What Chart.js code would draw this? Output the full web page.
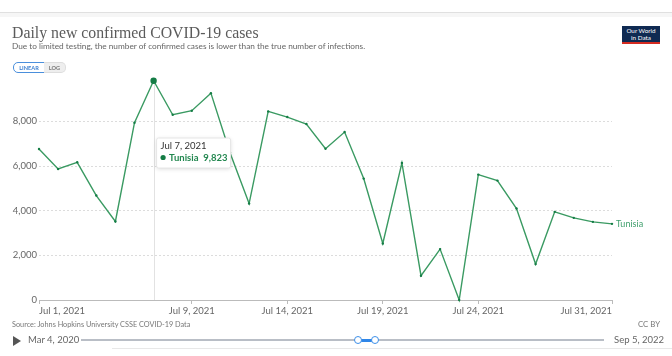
<!DOCTYPE html>
<html><head><meta charset="utf-8">
<script src="https://cdn.jsdelivr.net/npm/chart.js@4/dist/chart.umd.min.js"></script>
<style>
html,body{margin:0;padding:0;background:#fff;width:672px;height:356px;overflow:hidden;font-family:Lato,sans-serif;}
.abs{position:absolute;white-space:nowrap;line-height:1;}
#topline{position:absolute;left:0;top:12px;width:672px;height:1px;background:#e0e0e0;}
#topband{position:absolute;left:0;top:13px;width:672px;height:4px;background:#f6f6f6;}
#title{left:12px;top:24.5px;font-family:"Liberation Serif",serif;font-size:15.8px;color:#5b5b5b;}
#subtitle{left:12px;top:41.5px;font-size:8.27px;color:#666;}
#btnLin{left:13px;top:62px;width:30px;height:9px;border:1px solid #4a8fdc;border-radius:5px 0 0 5px;font-size:5.6px;font-weight:bold;color:#3b7fd0;text-align:center;line-height:9px;background:#fff;}
#btnLog{left:44px;top:62px;width:21px;height:9px;border:1px solid #ddd;border-left:none;border-radius:0 5px 5px 0;font-size:5.6px;font-weight:bold;color:#777;text-align:center;line-height:9px;background:#eee;}
#logo{left:622px;top:26px;width:38px;height:16px;background:#0f2a52;color:#fff;font-size:6.3px;text-align:center;line-height:7px;padding-top:1px;box-sizing:border-box;}
#logobar{left:622px;top:42px;width:38px;height:2px;background:#d42b21;}
#source{left:12px;top:321px;font-size:7.3px;color:#777;}
#ccby{left:638px;top:321px;font-size:7.8px;color:#777;}
#play{left:13px;top:336px;width:0;height:0;border-left:8px solid #555;border-top:5px solid transparent;border-bottom:5px solid transparent;}
#startDate{left:28px;top:335px;font-size:9.5px;color:#666;}
#endDate{left:614px;top:335px;font-size:9.5px;color:#666;}
#track{left:81px;top:339px;width:523px;height:2px;background:#b9bec6;}
#range{left:358px;top:338.5px;width:17px;height:3px;background:#2f86e8;}
.handle{top:335.5px;width:6px;height:6px;border:1.3px solid #3d8fe8;border-radius:50%;background:#fff;}
#bottomline{left:112px;top:348px;width:560px;height:1px;background:#e8e8e8;}
#chart{position:absolute;left:0;top:0;}
</style></head>
<body>
<div id="topline"></div><div id="topband"></div>
<canvas id="chart" width="672" height="356"></canvas>
<div class="abs" id="title">Daily new confirmed COVID-19 cases</div>
<div class="abs" id="subtitle">Due to limited testing, the number of confirmed cases is lower than the true number of infections.</div>
<div class="abs" id="btnLin">LINEAR</div><div class="abs" id="btnLog">LOG</div>
<div class="abs" id="logo">Our World<br>in Data</div><div class="abs" id="logobar"></div>
<div class="abs" id="source">Source: Johns Hopkins University CSSE COVID-19 Data</div>
<div class="abs" id="ccby">CC BY</div>
<div class="abs" id="play"></div>
<div class="abs" id="startDate">Mar 4, 2020</div>
<div class="abs" id="track"></div><div class="abs" id="range"></div>
<div class="abs handle" style="left:354px"></div><div class="abs handle" style="left:371px"></div>
<div class="abs" id="endDate">Sep 5, 2022</div>
<div class="abs" id="bottomline"></div>
<script>
const dates = ["Jul 1, 2021","Jul 2, 2021","Jul 3, 2021","Jul 4, 2021","Jul 5, 2021","Jul 6, 2021","Jul 7, 2021","Jul 8, 2021","Jul 9, 2021","Jul 10, 2021","Jul 11, 2021","Jul 12, 2021","Jul 13, 2021","Jul 14, 2021","Jul 15, 2021","Jul 16, 2021","Jul 17, 2021","Jul 18, 2021","Jul 19, 2021","Jul 20, 2021","Jul 21, 2021","Jul 22, 2021","Jul 23, 2021","Jul 24, 2021","Jul 25, 2021","Jul 26, 2021","Jul 27, 2021","Jul 28, 2021","Jul 29, 2021","Jul 30, 2021","Jul 31, 2021"];
const cases = [6762,5868,6168,4679,3517,7942,9823,8299,8478,9265,6592,4321,8447,8194,7881,6778,7523,5438,2533,6138,1088,2279,0,5617,5348,4097,1609,3948,3680,3501,3411];
const xTickLabels = ["Jul 1, 2021","Jul 9, 2021","Jul 14, 2021","Jul 19, 2021","Jul 24, 2021","Jul 31, 2021"];
const yTickValues = [0,2000,4000,6000,8000];
const seriesName = "Tunisia";
const hoverIndex = 6;

const fmt = v => Number(v).toLocaleString('en-US');
const GREEN_LINE = '#3a9a62', GREEN_DOT = '#147c45', GREEN_TEXT = '#22874f';

const overlay = {
  id: 'overlay',
  beforeDatasetsDraw(chart) {
    const c = chart.ctx, a = chart.chartArea;
    const p = chart.getDatasetMeta(0).data[hoverIndex];
    c.save();
    c.strokeStyle = '#e2e2e2'; c.lineWidth = 1;
    c.beginPath(); c.moveTo(Math.round(p.x)+0.5, a.top); c.lineTo(Math.round(p.x)+0.5, a.bottom); c.stroke();
    c.restore();
  },
  afterDatasetsDraw(chart) {
    const c = chart.ctx;
    const meta = chart.getDatasetMeta(0);
    const p = meta.data[hoverIndex];
    const last = meta.data[meta.data.length - 1];
    c.save();
    c.font = '9px Lato'; c.fillStyle = '#3f9f6c'; c.textBaseline = 'middle'; c.textAlign = 'left';
    c.fillText(seriesName, last.x + 4, last.y + 0.5);
    const bx = p.x + 3, by = 138, bw = 74, bh = 30;
    c.shadowColor = 'rgba(0,0,0,0.15)'; c.shadowBlur = 4; c.shadowOffsetY = 1;
    c.fillStyle = '#fff';
    c.beginPath(); c.roundRect(bx, by, bw, bh, 2); c.fill();
    c.shadowColor = 'transparent';
    c.strokeStyle = '#e6e6e6'; c.lineWidth = 1; c.stroke();
    c.fillStyle = '#333'; c.font = '9.5px Lato'; c.textBaseline = 'middle';
    c.fillText(dates[hoverIndex], bx + 4, by + 8);
    c.fillStyle = GREEN_DOT;
    c.beginPath(); c.arc(bx + 6.5, by + 19.5, 2.6, 0, Math.PI*2); c.fill();
    c.fillStyle = GREEN_TEXT; c.font = 'bold 9.5px Lato';
    c.fillText(seriesName, bx + 12.5, by + 19.5);
    c.textAlign = 'right';
    c.fillText(fmt(cases[hoverIndex]), bx + bw - 3, by + 19.5);
    c.restore();
  }
};

new Chart(document.getElementById('chart'), {
  type: 'line',
  data: { labels: dates, datasets: [{
    label: seriesName, data: cases, borderColor: GREEN_LINE, borderWidth: 1.4,
    pointRadius: c => c.dataIndex === hoverIndex ? 3.2 : 1.2,
    pointBackgroundColor: GREEN_DOT, pointBorderWidth: 0, tension: 0, clip: false
  }]},
  options: {
    responsive: false, animation: false, events: [],
    layout: { padding: { left: 0, right: 60, top: 80.7, bottom: 0 } },
    plugins: { legend: { display: false }, tooltip: { enabled: false } },
    scales: {
      x: {
        type: 'category', offset: false,
        afterBuildTicks: s => { s.ticks = s.ticks.filter(t => xTickLabels.includes(dates[t.value])); },
        afterFit: s => { s.height = 56; },
        ticks: { autoSkip: false, maxRotation: 0, align: 'inner', padding: 1, color: '#666', font: { family: 'Lato', size: 9.5 } },
        grid: { drawOnChartArea: false, drawTicks: true, tickLength: 4, tickColor: '#bbb' },
        border: { display: true, color: '#bbb', width: 1 }
      },
      y: {
        min: 0, max: Math.max(...cases),
        afterBuildTicks: s => { s.ticks = yTickValues.map(v => ({ value: v })); },
        afterFit: s => { s.width = 39; },
        ticks: { padding: 2, color: '#666', font: { family: 'Lato', size: 9.5 }, callback: v => fmt(v) },
        grid: { color: c => (c.tick && c.tick.value === 0) ? 'rgba(0,0,0,0)' : '#dcdcdc', drawTicks: false, lineWidth: 1 },
        border: { display: false, dash: [2, 2] }
      }
    }
  },
  plugins: [overlay]
});
</script>
</body></html>
